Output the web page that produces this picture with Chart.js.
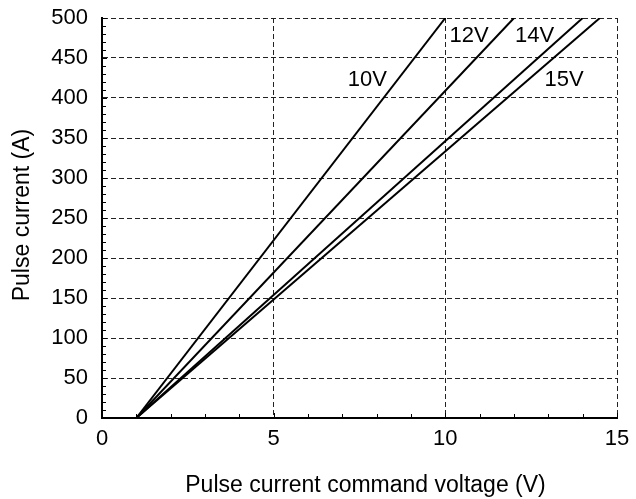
<!DOCTYPE html>
<html>
<head>
<meta charset="utf-8">
<script src="https://cdn.jsdelivr.net/npm/chart.js@4.4.1/dist/chart.umd.min.js"></script>
<style>
  html, body { margin: 0; padding: 0; background: #ffffff; }
  #wrap { width: 636px; height: 499px; }
</style>
</head>
<body>
<div id="wrap"><canvas id="c" width="636" height="499"></canvas></div>
<script>
// Supply voltage curves: pulse current vs. pulse current command voltage
const supplyVoltages = ['10V', '12V', '14V', '15V'];
const commandAtZeroA = [1, 1, 1, 1];          // V, where each line leaves 0 A
const commandAt500A  = [10, 12, 14, 14.5];    // V, where each line reaches 500 A
const currentEnds    = [0, 500];              // A
// Label anchor positions in data units
const labelCommand = [7.73, 10.69, 12.6, 13.46];
const labelCurrent = [422, 477, 477, 423];
// Axis ranges and tick steps
const xRange = [0, 15], xMajor = 5, xMinor = 1;
const yRange = [0, 500], yMajor = 50, yMinor = 10;
const xTitle = 'Pulse current command voltage (V)';
const yTitle = 'Pulse current (A)';

const FONT = "'Liberation Sans', Arial, Helvetica, sans-serif";

const datasets = supplyVoltages.map((name, i) => ({
  label: name,
  data: [
    { x: commandAtZeroA[i], y: currentEnds[0] },
    { x: commandAt500A[i],  y: currentEnds[1] }
  ],
  showLine: true,
  borderColor: '#000000',
  borderWidth: 2,
  pointRadius: 0,
  fill: false
}));

// Inward tick marks, series name labels and axis titles
const decorations = {
  id: 'decorations',
  afterDatasetsDraw(chart) {
    const { ctx, chartArea: a, scales: { x, y } } = chart;
    ctx.save();
    ctx.strokeStyle = '#000000';
    ctx.lineWidth = 1;
    ctx.beginPath();
    for (let v = xRange[0]; v <= xRange[1] + 1e-9; v += xMinor) {
      const px = Math.round(x.getPixelForValue(v)) + 0.5;
      const len = (v % xMajor === 0) ? 5 : 4;
      ctx.moveTo(px, a.bottom);
      ctx.lineTo(px, a.bottom - len);
    }
    for (let v = yRange[0]; v <= yRange[1] + 1e-9; v += yMinor) {
      const py = Math.round(y.getPixelForValue(v)) + 0.5;
      const len = (v % yMajor === 0) ? 5 : 4;
      ctx.moveTo(a.left, py);
      ctx.lineTo(a.left + len, py);
    }
    ctx.stroke();

    ctx.fillStyle = '#000000';
    ctx.font = '22px ' + FONT;
    ctx.textAlign = 'center';
    ctx.textBaseline = 'middle';
    supplyVoltages.forEach((name, i) => {
      ctx.fillText(name, x.getPixelForValue(labelCommand[i]), y.getPixelForValue(labelCurrent[i]));
    });

    ctx.font = '23px ' + FONT;
    ctx.fillText(xTitle, (a.left + a.right) / 2 + 6, 486);
    ctx.translate(23, (a.top + a.bottom) / 2 - 3);
    ctx.rotate(-Math.PI / 2);
    ctx.fillText(yTitle, 0, 0);
    ctx.restore();
  }
};

new Chart(document.getElementById('c'), {
  type: 'scatter',
  data: { datasets },
  options: {
    responsive: false,
    animation: false,
    devicePixelRatio: 1,
    layout: { padding: { top: 18, right: 19, left: 0, bottom: 0 } },
    plugins: { legend: { display: false }, tooltip: { enabled: false } },
    scales: {
      x: {
        type: 'linear',
        min: xRange[0], max: xRange[1],
        afterFit(s) { s.height = 81; s.paddingLeft = 0; s.paddingRight = 0; },
        ticks: { stepSize: xMajor, color: '#000000', font: { family: FONT, size: 22 }, padding: 8, maxRotation: 0 },
        grid: { color: '#222222', lineWidth: 1, drawTicks: false },
        border: { display: true, color: '#000000', width: 2, dash: [5, 3] }
      },
      y: {
        type: 'linear',
        min: yRange[0], max: yRange[1],
        afterFit(s) { s.width = 102; s.paddingTop = 0; s.paddingBottom = 0; },
        ticks: { stepSize: yMajor, color: '#000000', font: { family: FONT, size: 22 }, padding: 14 },
        grid: { color: '#222222', lineWidth: 1, drawTicks: false },
        border: { display: true, color: '#000000', width: 2, dash: [5, 3] }
      }
    }
  },
  plugins: [decorations]
});
</script>
</body>
</html>
